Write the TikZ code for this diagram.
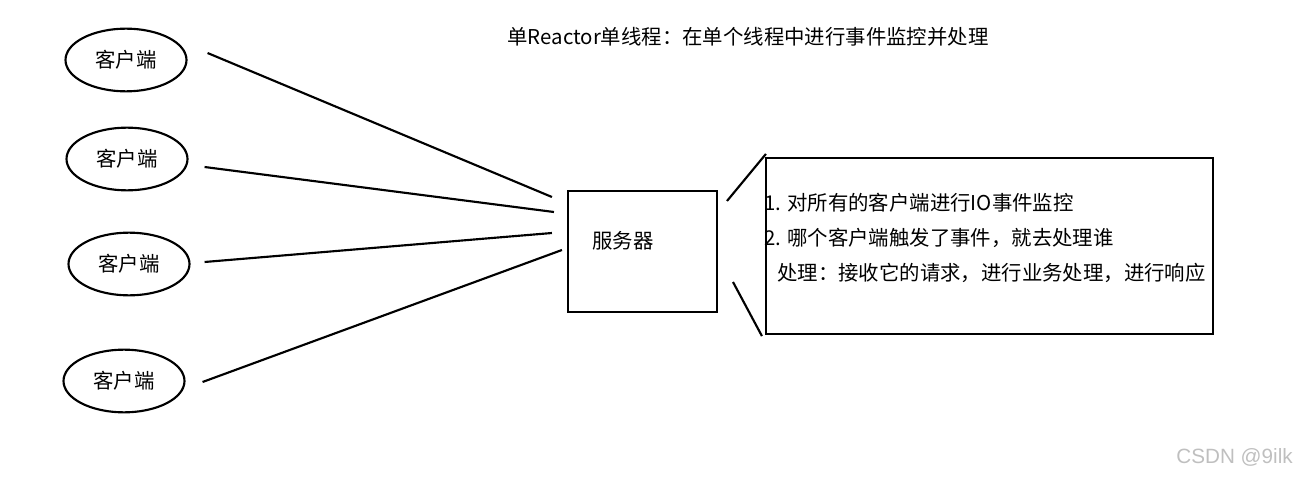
\documentclass[tikz,border=0pt]{standalone}
\usepackage{fontspec}
\newfontfamily\cjk{Noto Sans CJK SC}
\newfontfamily\wmfont{Liberation Sans}
\usepackage{tikz}
\usetikzlibrary{positioning,shapes.geometric,calc}

\begin{document}
\begin{tikzpicture}[
			x=0.75pt,y=-0.75pt,
			every node/.style={font=\cjk\fontsize{15.3}{18}\selectfont,inner sep=0pt},
			client/.style={draw,ellipse,line width=1.6pt,minimum width=90.75pt,minimum height=47pt},
			box/.style={draw,rectangle,line width=1.6pt},
			wire/.style={line width=1.6pt}
			]
			
			\useasboundingbox (0,0) rectangle (1297,478);
			
			\node (title) at (748,37) {单Reactor单线程：在单个线程中进行事件监控并处理};
			
			\node[client] (c1) at (126,60) {客户端};
			\node[client] (c2) at (127,159) {客户端};
			\node[client] (c3) at (129,264) {客户端};
			\node[client] (c4) at (124,381) {客户端};
			
			\node[box,minimum width=111.75pt,minimum height=90.75pt] (srv) at (642.5,251.5) {};
			\node (srvtext) at (623,241) {服务器};
			
			\node[box,minimum width=335.25pt,minimum height=132pt] (info) at (989.5,246) {};
			\node[anchor=west] (line1) at (764,203) {1. 对所有的客户端进行IO事件监控};
			\node[anchor=west] (line2) at (764,238) {2. 哪个客户端触发了事件，就去处理谁};
			\node[anchor=west] (line3) at (777,273) {处理：接收它的请求，进行业务处理，进行响应};
			
			\coordinate (tipup) at (727,201);
			\coordinate (tipdown) at (733,282);
			
			\draw[wire] ([shift={(20,-7)}]c1.east)--([shift={(-15,-54.5)}]srv.west);
			\draw[wire] ([shift={(16,8)}]c2.east)--([shift={(-13,-39.5)}]srv.west);
			\draw[wire] ([shift={(14,-2)}]c3.east)--([shift={(-15,-18.5)}]srv.west);
			\draw[wire] ([shift={(17,1)}]c4.east)--([shift={(-5,-1.5)}]srv.west);
			
			\draw[wire] (tipup)--([shift={(1,-3)}]info.north west);
			\draw[wire] (tipdown)--([shift={(-3,1)}]info.south west);
			
			\node[font=\wmfont\fontsize{15.5}{18}\selectfont,text=black!25,anchor=east] (mark) at (1293,457) {CSDN @9ilk};
			
		\end{tikzpicture}
\end{document}
